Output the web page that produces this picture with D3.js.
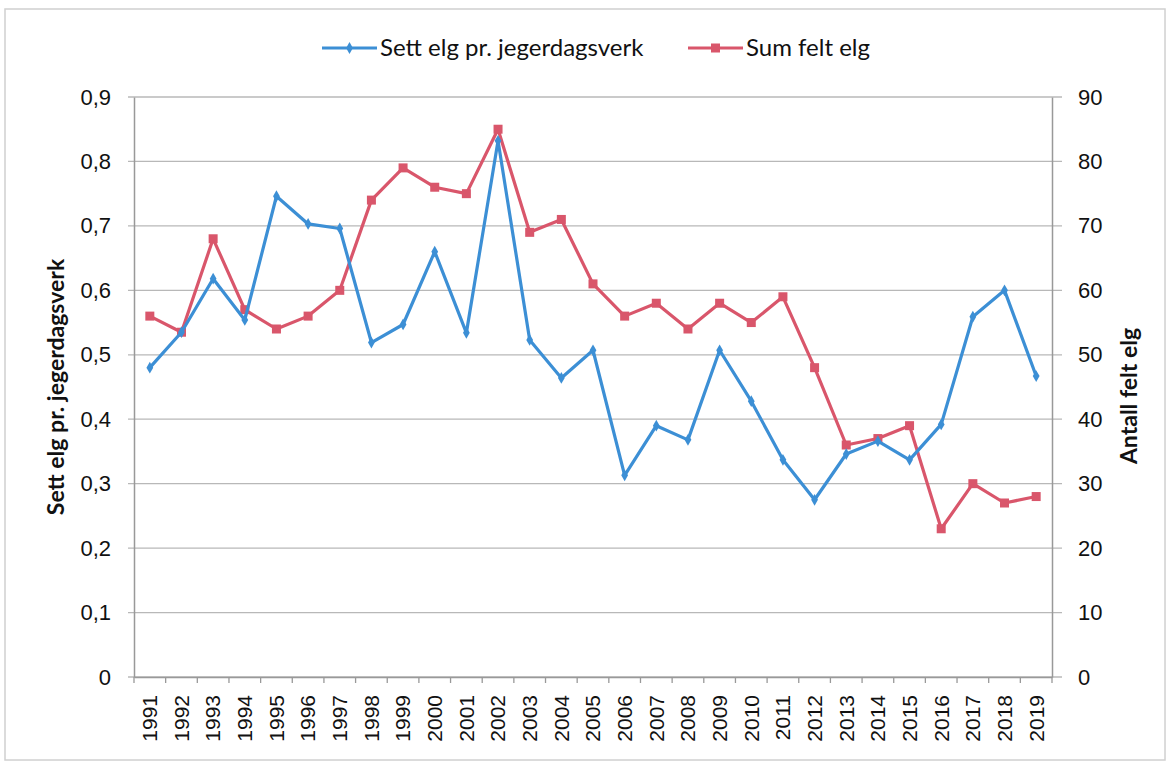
<!DOCTYPE html>
<html>
<head>
<meta charset="utf-8">
<script src="https://cdn.jsdelivr.net/npm/d3@7"></script>
<style>
  body { margin: 0; background: #fff; }
  svg { display: block; font-family: Lato, "Open Sans", sans-serif; }
</style>
</head>
<body>
<svg id="chart" width="1172" height="763"></svg>
<script>
// år (kategorier)
const years = ["1991","1992","1993","1994","1995","1996","1997","1998","1999","2000",
  "2001","2002","2003","2004","2005","2006","2007","2008","2009","2010",
  "2011","2012","2013","2014","2015","2016","2017","2018","2019"];
// sett elg pr. jegerdagsverk (venstre akse)
const settElg = [0.48,0.535,0.618,0.554,0.746,0.703,0.696,0.519,0.547,0.660,
  0.534,0.832,0.523,0.464,0.507,0.313,0.390,0.368,0.507,0.428,
  0.337,0.275,0.346,0.366,0.337,0.392,0.559,0.600,0.467];
// sum felt elg (høyre akse)
const feltElg = [56,53.5,68,57,54,56,60,74,79,76,
  75,85,69,71,61,56,58,54,58,55,
  59,48,36,37,39,23,30,27,28];
const leftTicks = [0,0.1,0.2,0.3,0.4,0.5,0.6,0.7,0.8,0.9];
const rightTicks = [0,10,20,30,40,50,60,70,80,90];
const seriesNames = ["Sett elg pr. jegerdagsverk", "Sum felt elg"];

const BLUE = "#3c8fd5", RED = "#d9566b";
const svg = d3.select("#chart");
const plotL = 134, plotR = 1052, plotT = 97, plotB = 677;

// ramme rundt
svg.append("rect").attr("x", 5).attr("y", 9).attr("width", 1160).attr("height", 751)
  .attr("fill", "none").attr("stroke", "#d0d0d0").attr("stroke-width", 1.5);

const x = d3.scaleBand().domain(years).range([plotL, plotR]);
const yL = d3.scaleLinear().domain([0, 0.9]).range([plotB, plotT]);
const yR = d3.scaleLinear().domain([0, 90]).range([plotB, plotT]);
const cx = d => x(d) + x.bandwidth() / 2;

// rutenett
svg.append("g").selectAll("line").data(leftTicks).join("line")
  .attr("x1", plotL - 6).attr("x2", plotR + 10)
  .attr("y1", d => yL(d)).attr("y2", d => yL(d))
  .attr("stroke", "#b8b8b8").attr("stroke-width", 1.3);

// akser
const fmt = d => d === 0 ? "0" : d3.format(".1f")(d).replace(".", ",");
const gL = svg.append("g").attr("transform", `translate(${plotL},0)`)
  .call(d3.axisLeft(yL).tickValues(leftTicks).tickFormat(fmt).tickSize(0).tickPadding(23));
const gR = svg.append("g").attr("transform", `translate(${plotR},0)`)
  .call(d3.axisRight(yR).tickValues(rightTicks).tickSize(0).tickPadding(26));
const gX = svg.append("g").attr("transform", `translate(0,${plotB})`)
  .call(d3.axisBottom(x).tickSize(0).tickPadding(0));
[gL, gR, gX].forEach(g => {
  g.select(".domain").attr("stroke", "#999").attr("stroke-width", 1.5);
  g.selectAll("text").attr("fill", "#111").attr("font-size", 22);
});
gX.selectAll(".tick text")
  .attr("font-size", 21)
  .attr("transform", "rotate(-90)")
  .attr("text-anchor", "end")
  .attr("y", 0)
  .attr("dx", -18).attr("dy", "0.35em");
// små streker på x-aksen
svg.append("g").selectAll("line").data(years.concat(["end"])).join("line")
  .attr("x1", (d, i) => plotL + i * x.bandwidth()).attr("x2", (d, i) => plotL + i * x.bandwidth())
  .attr("y1", plotB).attr("y2", plotB + 6)
  .attr("stroke", "#999").attr("stroke-width", 1.3);

// aksetitler
svg.append("text").attr("transform", "translate(56,387) rotate(-90)")
  .attr("text-anchor", "middle").attr("dy", "0.35em").attr("font-size", 23).attr("font-weight", "bold")
  .attr("fill", "#111").text("Sett elg pr. jegerdagsverk");
svg.append("text").attr("transform", "translate(1129,396) rotate(-90)")
  .attr("text-anchor", "middle").attr("dy", "0.35em").attr("font-size", 23).attr("font-weight", "bold")
  .attr("fill", "#111").text("Antall felt elg");

// linjer
const lineL = d3.line().x((d, i) => cx(years[i])).y(d => yL(d));
const lineR = d3.line().x((d, i) => cx(years[i])).y(d => yR(d));
svg.append("path").datum(feltElg).attr("d", lineR)
  .attr("fill", "none").attr("stroke", RED).attr("stroke-width", 3.2).attr("stroke-linejoin", "round");
svg.append("g").selectAll("rect").data(feltElg).join("rect")
  .attr("x", (d, i) => cx(years[i]) - 4.5).attr("y", d => yR(d) - 4.5)
  .attr("width", 9).attr("height", 9).attr("fill", RED);
svg.append("path").datum(settElg).attr("d", lineL)
  .attr("fill", "none").attr("stroke", BLUE).attr("stroke-width", 3.2).attr("stroke-linejoin", "round");
svg.append("g").selectAll("path").data(settElg).join("path")
  .attr("transform", (d, i) => `translate(${cx(years[i])},${yL(d)})`)
  .attr("d", d3.symbol(d3.symbolDiamond, 40)).attr("fill", BLUE);

// forklaring
const legend = svg.append("g").attr("transform", "translate(0,48)");
const legItems = [
  { name: seriesNames[0], color: BLUE, x0: 322, sym: "diamond" },
  { name: seriesNames[1], color: RED, x0: 688, sym: "square" }
];
legItems.forEach(it => {
  legend.append("line").attr("x1", it.x0).attr("x2", it.x0 + 55)
    .attr("stroke", it.color).attr("stroke-width", 3.2);
  if (it.sym === "square") {
    legend.append("rect").attr("x", it.x0 + 23).attr("y", -4.5).attr("width", 9).attr("height", 9).attr("fill", it.color);
  } else {
    legend.append("path").attr("transform", `translate(${it.x0 + 27.5},0)`)
      .attr("d", d3.symbol(d3.symbolDiamond, 40)).attr("fill", it.color);
  }
  legend.append("text").attr("x", it.x0 + 58).attr("dy", "0.35em")
    .attr("font-size", 24).attr("fill", "#111").text(it.name);
});
</script>
</body>
</html>
